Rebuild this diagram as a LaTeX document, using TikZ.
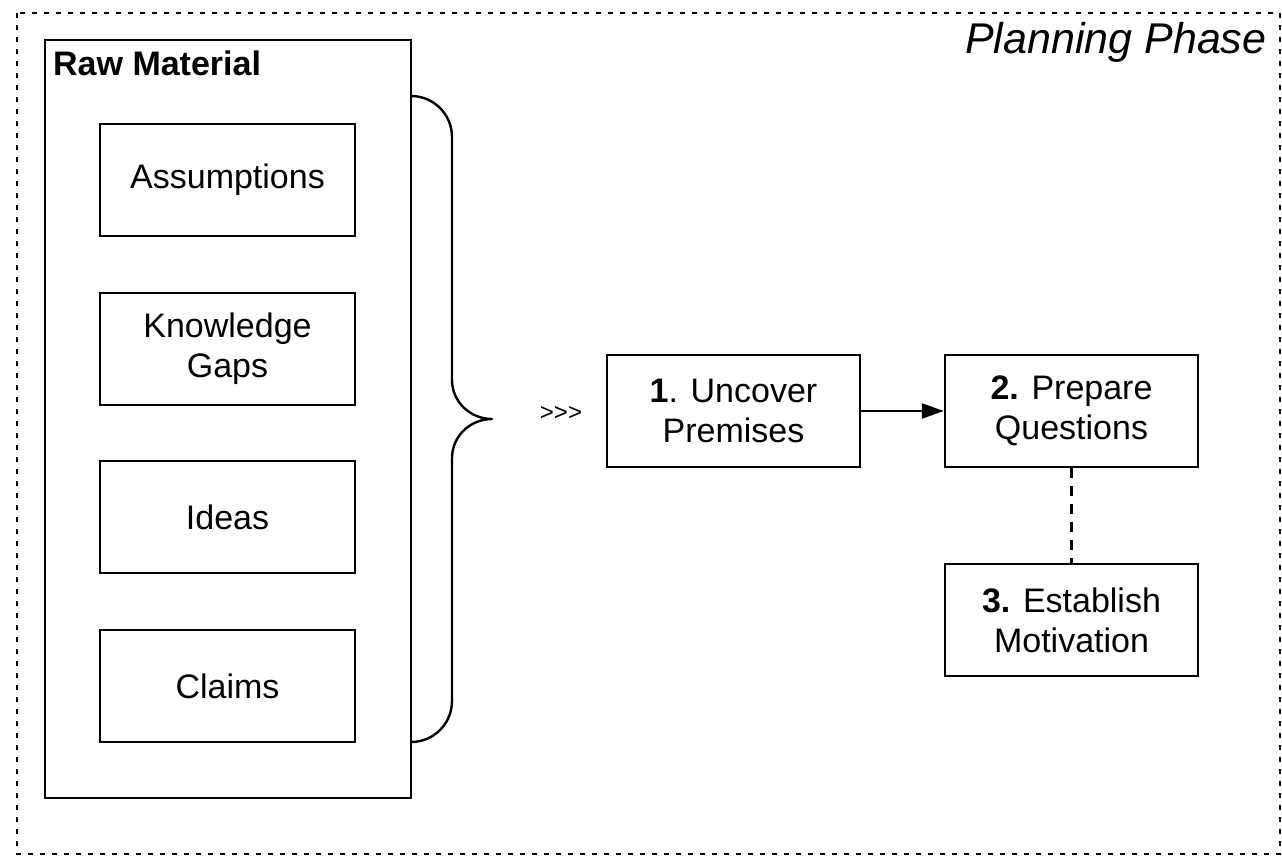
\documentclass[tikz,border=0pt]{standalone}
\usepackage{fontspec}
\setmainfont{Liberation Sans}
\usetikzlibrary{arrows.meta}
\begin{document}
\begin{tikzpicture}[x=1pt,y=-1pt,
  box/.style={draw,line width=2.4pt,minimum width=253pt,minimum height=112pt,inner sep=0pt,align=center,font=\fontsize{34}{40}\selectfont},
  conn/.style={line width=2.4pt}]
\useasboundingbox (0,0) rectangle (1282,860);
\fill[white] (0,0) rectangle (1282,860);
% outer border
\draw[line width=2.6pt,dash pattern=on 5pt off 7pt] (17,13) rectangle (1280,854);
\node[anchor=base east,font=\fontsize{43}{50}\selectfont\itshape] (phase) at (1270,53) {Planning Phase};
% raw material
\draw[line width=2.4pt] (45,40) rectangle (411,798);
\node[anchor=base west,inner sep=0pt,font=\fontsize{34}{40}\selectfont\bfseries] (rawtitle) at (53,75) {Raw Material};
\node[box,minimum width=255pt] (assum) at (227.5,180) {Assumptions};
\node[box,minimum width=255pt] (gaps) at (227.5,349) {Knowledge\\Gaps};
\node[box,minimum width=255pt] (ideas) at (227.5,517) {Ideas};
\node[box,minimum width=255pt] (claims) at (227.5,686) {Claims};
% brace
\coordinate (btop) at (411,96);
\coordinate (btip) at (492,419);
\coordinate (bbot) at (411,742);
\draw[conn,line join=round] (btop) to[out=0,in=90] (452,137) -- (452,380)
  to[out=-90,in=180] (btip) to[out=180,in=90] (452,458) -- (452,701)
  to[out=-90,in=0] (bbot);
\node[font=\fontsize{24}{28}\selectfont] (gt) at (561,413) {>{}>{}>};
% steps
\node[box] (uncover) at (733.5,411) {\textbf{1}. Uncover\\Premises};
\node[box] (prepare) at (1071.5,411) {\textbf{2.} Prepare\\Questions};
\node[box] (establish) at (1071.5,620) {\textbf{3.} Establish\\Motivation};
\draw[conn,-{Triangle[length=22pt,width=15pt]}] (uncover) -- (prepare);
\draw[conn,dash pattern=on 10pt off 8pt] (prepare) -- (establish);
\end{tikzpicture}
\end{document}
